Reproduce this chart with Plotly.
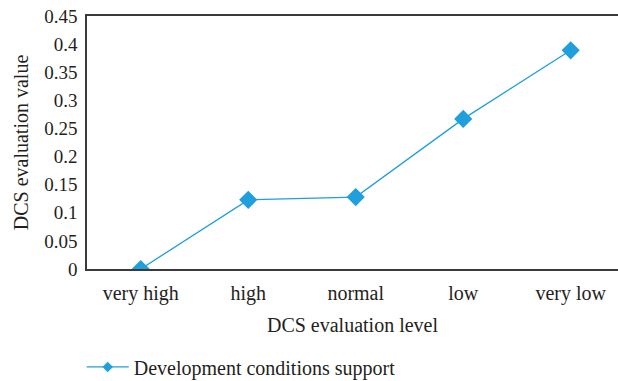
import plotly.graph_objects as go

levels = ["very high", "high", "normal", "low", "very low"]
support_values = [0.0, 0.123, 0.128, 0.267, 0.389]
y_ticks = [0, 0.05, 0.1, 0.15, 0.2, 0.25, 0.3, 0.35, 0.4, 0.45]
y_tick_text = ["0", "0.05", "0.1", "0.15", "0.2", "0.25", "0.3", "0.35", "0.4", "0.45"]

BLUE = "#1f9fdb"
FONT = "Liberation Serif"

fig = go.Figure()
fig.add_trace(go.Scatter(
    x=levels, y=support_values, mode="lines+markers",
    line=dict(color=BLUE, width=1.3),
    marker=dict(symbol="diamond", size=14, color=BLUE),
    showlegend=False,
))
# legend entry with a smaller marker
fig.add_trace(go.Scatter(
    x=[None], y=[None], mode="lines+markers",
    name="Development conditions support",
    line=dict(color=BLUE, width=1.3),
    marker=dict(symbol="diamond", size=8, color=BLUE),
))

fig.update_layout(
    width=618, height=381,
    margin=dict(l=87, r=0, t=16, b=112, autoexpand=False),
    paper_bgcolor="white", plot_bgcolor="white",
    font=dict(family=FONT, size=20, color="#231f20"),
    xaxis=dict(
        range=[-0.5, 4.44], showgrid=False, zeroline=False,
        showline=True, mirror=True, linecolor="#3a3a3a", linewidth=1.5,
        ticks="outside", ticklen=5, tickcolor="rgba(0,0,0,0)",
        tickfont=dict(size=20),
        title=dict(text="DCS evaluation level", standoff=14, font=dict(size=20)),
    ),
    yaxis=dict(
        range=[0, 0.45], tickvals=y_ticks, ticktext=y_tick_text,
        showgrid=False, zeroline=False,
        showline=True, linecolor="#3a3a3a", linewidth=1.5,
        ticks="outside", ticklen=4, tickcolor="rgba(0,0,0,0)",
        tickfont=dict(size=19),
        title=dict(text="DCS evaluation value", standoff=10, font=dict(size=20)),
    ),
    legend=dict(
        orientation="h", x=-0.01, xanchor="left", y=-0.31, yanchor="top",
        font=dict(size=20), itemwidth=42,
    ),
)

fig.write_html("out.html")
